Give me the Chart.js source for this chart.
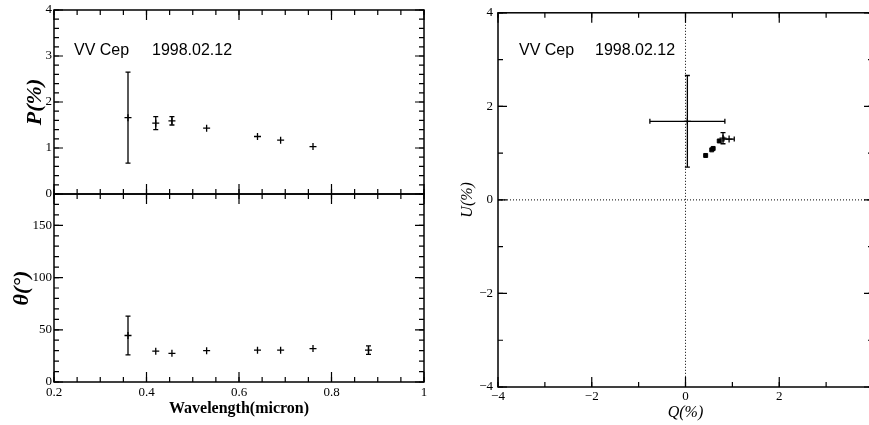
<!DOCTYPE html>
<html>
<head>
<meta charset="utf-8">
<script src="https://cdn.jsdelivr.net/npm/chart.js@4.4.0/dist/chart.umd.min.js"></script>
<style>
html, body { margin: 0; padding: 0; background: #fff; overflow: hidden; width: 869px; height: 425px; }
canvas { position: absolute; }
.lbl { position: absolute; font: 16px "Liberation Sans", Arial, sans-serif; line-height: 16px; color: #000; white-space: nowrap; }
</style>
</head>
<body>
<canvas id="chartP" style="left:0;top:0" width="440" height="210"></canvas>
<canvas id="chartTheta" style="left:0;top:180px" width="440" height="245"></canvas>
<canvas id="chartQU" style="left:460px;top:0" width="420" height="425"></canvas>
<div class="lbl" style="left:74px;top:42px">VV Cep</div>
<div class="lbl" style="left:152px;top:42px">1998.02.12</div>
<div class="lbl" style="left:519px;top:42px">VV Cep</div>
<div class="lbl" style="left:595px;top:42px">1998.02.12</div>
<script>
// Dados
const wavelengthP = [0.36, 0.42, 0.455, 0.53, 0.64, 0.69, 0.76];
const polP = [1.66, 1.54, 1.59, 1.43, 1.25, 1.17, 1.03];
const polPErr = [0.99, 0.14, 0.09, 0.03, 0.03, 0.03, 0.03];

const wavelengthTheta = [0.36, 0.42, 0.455, 0.53, 0.64, 0.69, 0.76, 0.88];
const theta = [44.5, 29.5, 27.5, 30, 30.5, 30.5, 32, 30.5];
const thetaErr = [18.5, 1.5, 1.5, 1.5, 1.5, 1.5, 1.5, 4];

const stokesQ = [0.04, 0.80, 0.93, 0.72, 0.59, 0.56, 0.43];
const stokesU = [1.68, 1.32, 1.30, 1.26, 1.10, 1.07, 0.95];
const stokesQErr = [0.80, 0.04, 0.11, 0.03, 0.02, 0.02, 0.02];
const stokesUErr = [0.98, 0.12, 0.05, 0.03, 0.02, 0.02, 0.02];

const serif = '"Liberation Serif", "DejaVu Serif", serif';
const tickFont = { family: serif, size: 13 };

const toPoints = (xs, ys) => xs.map((x, i) => ({ x: x, y: ys[i] }));
const minus = v => String(v).replace('-', '\u2212');
const plain = v => String(+v.toFixed(2));

// Moldura, ticks internos e barras de erro
const framePlugin = {
    id: 'frame',
    beforeDatasetsDraw(chart, args, opts) {
        const { ctx, chartArea: a, scales: { x, y } } = chart;
        ctx.save();
        ctx.strokeStyle = '#000';
        if (opts.zeroLines) {
            ctx.setLineDash([1, 2]);
            ctx.lineWidth = 1;
            const x0 = x.getPixelForValue(0), y0 = y.getPixelForValue(0);
            ctx.beginPath();
            ctx.moveTo(x0, a.top); ctx.lineTo(x0, a.bottom);
            ctx.moveTo(a.left, y0); ctx.lineTo(a.right, y0);
            ctx.stroke();
            ctx.setLineDash([]);
        }
        ctx.lineWidth = 1.5;
        ctx.strokeRect(a.left, a.top, a.width, a.height);
        ctx.lineWidth = 1.2;
        const ticks = (scale, step, len, horiz) => {
            const n0 = Math.ceil(scale.min / step - 1e-6), n1 = Math.floor(scale.max / step + 1e-6);
            ctx.beginPath();
            for (let n = n0; n <= n1; n++) {
                const p = scale.getPixelForValue(n * step);
                if (horiz) {
                    ctx.moveTo(p, a.bottom); ctx.lineTo(p, a.bottom - len);
                    ctx.moveTo(p, a.top); ctx.lineTo(p, a.top + len);
                } else {
                    ctx.moveTo(a.left, p); ctx.lineTo(a.left + len, p);
                    ctx.moveTo(a.right, p); ctx.lineTo(a.right - len, p);
                }
            }
            ctx.stroke();
        };
        ticks(x, opts.xMinor, 5, true);
        ticks(x, opts.xMajor, 10, true);
        ticks(y, opts.yMinor, 5, false);
        ticks(y, opts.yMajor, 9, false);
        ctx.restore();
    },
    afterDatasetsDraw(chart) {
        const { ctx, scales: { x, y } } = chart;
        ctx.save();
        ctx.strokeStyle = '#000';
        ctx.lineWidth = 1.3;
        chart.data.datasets.forEach(ds => {
            ds.data.forEach((pt, i) => {
                const px = x.getPixelForValue(pt.x), py = y.getPixelForValue(pt.y);
                ctx.beginPath();
                if (ds.errY) {
                    const t = y.getPixelForValue(pt.y + ds.errY[i]), b = y.getPixelForValue(pt.y - ds.errY[i]);
                    if (py - t > 3) {
                        ctx.moveTo(px, t); ctx.lineTo(px, b);
                        ctx.moveTo(px - 2.5, t); ctx.lineTo(px + 2.5, t);
                        ctx.moveTo(px - 2.5, b); ctx.lineTo(px + 2.5, b);
                    }
                }
                if (ds.errX) {
                    const l = x.getPixelForValue(pt.x - ds.errX[i]), r = x.getPixelForValue(pt.x + ds.errX[i]);
                    if (px - l > 3) {
                        ctx.moveTo(l, py); ctx.lineTo(r, py);
                        ctx.moveTo(l, py - 2.5); ctx.lineTo(l, py + 2.5);
                        ctx.moveTo(r, py - 2.5); ctx.lineTo(r, py + 2.5);
                    }
                }
                ctx.stroke();
            });
        });
        ctx.restore();
    }
};

const baseOptions = {
    responsive: false,
    animation: false,
    events: []
};

const yAxis = (min, max, step, title, titlePad, width, extra) => ({
    min: min, max: max,
    ticks: { stepSize: step, padding: 2, color: '#000', font: tickFont, ...(extra || {}) },
    grid: { display: false, drawTicks: false },
    border: { display: false },
    title: { display: true, text: title, color: '#000', padding: { top: titlePad, bottom: 0 },
             font: { family: serif, size: 22, style: 'italic', weight: 'bold', lineHeight: 1 } },
    afterFit: s => { s.width = width; }
});

// P(%) x comprimento de onda
new Chart(document.getElementById('chartP'), {
    type: 'scatter',
    data: {
        datasets: [{
            data: toPoints(wavelengthP, polP),
            errY: polPErr,
            pointStyle: 'cross', pointRadius: 3.5,
            borderColor: '#000', borderWidth: 1.3
        }]
    },
    options: {
        ...baseOptions,
        layout: { padding: { top: 10, bottom: 16, left: 0, right: 16 } },
        plugins: {
            legend: { display: false }, tooltip: { enabled: false },
            frame: { xMinor: 0.05, xMajor: 0.2, yMinor: 0.2, yMajor: 1 }
        },
        scales: {
            x: { type: 'linear', min: 0.2, max: 1, display: false },
            y: yAxis(0, 4, 1, 'P(%)', 24, 54)
        }
    },
    plugins: [framePlugin]
});

// Theta x comprimento de onda
new Chart(document.getElementById('chartTheta'), {
    type: 'scatter',
    data: {
        datasets: [{
            data: toPoints(wavelengthTheta, theta),
            errY: thetaErr,
            pointStyle: 'cross', pointRadius: 3.5,
            borderColor: '#000', borderWidth: 1.3
        }]
    },
    options: {
        ...baseOptions,
        layout: { padding: { top: 14, bottom: 0, left: 0, right: 16 } },
        plugins: {
            legend: { display: false }, tooltip: { enabled: false },
            frame: { xMinor: 0.05, xMajor: 0.2, yMinor: 10, yMajor: 50 }
        },
        scales: {
            x: {
                type: 'linear', min: 0.2, max: 1,
                ticks: { stepSize: 0.2, padding: 3, color: '#000', font: tickFont, callback: plain },
                grid: { display: false, drawTicks: false },
                border: { display: false },
                title: { display: true, text: 'Wavelength(micron)', color: '#000', padding: { top: 0, bottom: 7 },
                         font: { family: serif, size: 16, weight: 'bold' } },
                afterFit: s => { s.height = 43; }
            },
            y: yAxis(0, 180, 50, '\u03B8(\u00B0)', 11, 54, { callback: v => (v % 50 === 0 ? v : '') })
        }
    },
    plugins: [framePlugin]
});

// Plano Q-U
new Chart(document.getElementById('chartQU'), {
    type: 'scatter',
    data: {
        datasets: [{
            data: toPoints(stokesQ.slice(0, 3), stokesU.slice(0, 3)),
            errX: stokesQErr.slice(0, 3), errY: stokesUErr.slice(0, 3),
            pointStyle: 'cross', pointRadius: 3.5,
            borderColor: '#000', borderWidth: 1.3
        }, {
            data: toPoints(stokesQ.slice(3), stokesU.slice(3)),
            errX: stokesQErr.slice(3), errY: stokesUErr.slice(3),
            pointStyle: 'rect', pointRadius: 2.8,
            backgroundColor: '#000', borderColor: '#000', borderWidth: 1
        }]
    },
    options: {
        ...baseOptions,
        layout: { padding: { top: 10, bottom: 0, left: 0, right: 7 } },
        plugins: {
            legend: { display: false }, tooltip: { enabled: false },
            frame: { xMinor: 1, xMajor: 2, yMinor: 1, yMajor: 2, zeroLines: true }
        },
        scales: {
            x: {
                type: 'linear', min: -4, max: 4,
                ticks: { stepSize: 2, padding: 2, color: '#000', font: tickFont, callback: minus },
                grid: { display: false, drawTicks: false },
                border: { display: false },
                title: { display: true, text: 'Q(%)', color: '#000', padding: { top: 0, bottom: 3 },
                         font: { family: serif, size: 16, style: 'italic' } },
                afterFit: s => { s.height = 38; }
            },
            y: {
                min: -4, max: 4,
                ticks: { stepSize: 2, padding: 5, color: '#000', font: tickFont, callback: minus },
                grid: { display: false, drawTicks: false },
                border: { display: false },
                title: { display: true, text: 'U(%)', color: '#000', padding: { top: 0, bottom: 0 },
                         font: { family: serif, size: 16, style: 'italic', lineHeight: 1 } },
                afterFit: s => { s.width = 38; }
            }
        }
    },
    plugins: [framePlugin]
});
</script>
</body>
</html>
